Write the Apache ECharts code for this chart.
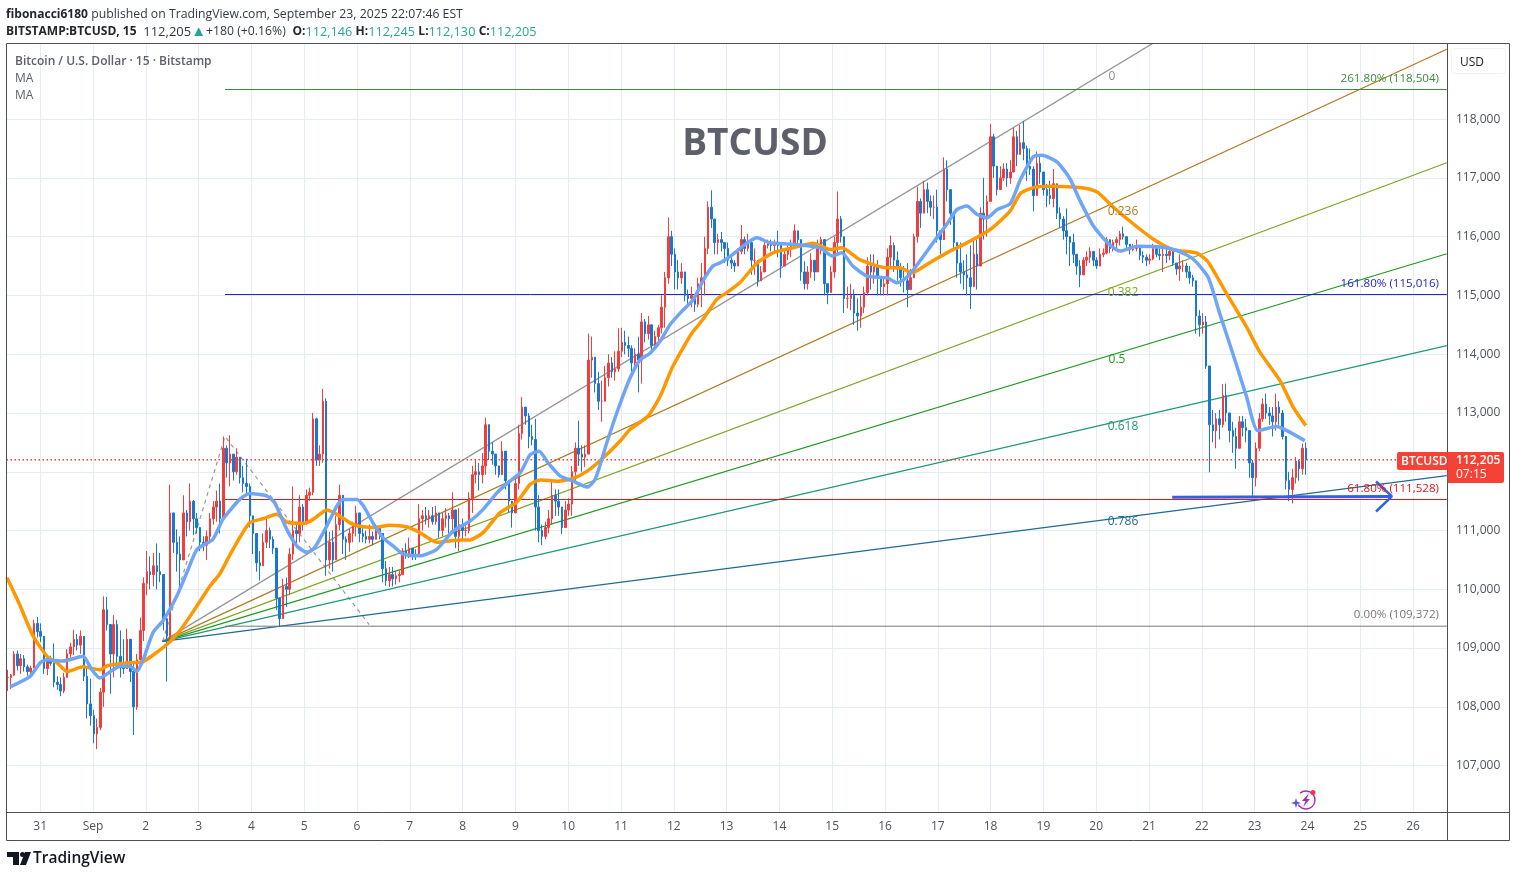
<!DOCTYPE html>
<html>
<head>
<meta charset="utf-8">
<title>BTCUSD</title>
<script src="https://cdn.jsdelivr.net/npm/echarts@6/dist/echarts.min.js"></script>
<style>
  html, body { margin: 0; padding: 0; background: #fff; }
  #chart { width: 1516px; height: 877px; }
</style>
</head>
<body>
<div id="chart"></div>
<script>
// ticks
const dayTicks = [0, 1, 2, 3, 4, 5, 6, 7, 8, 9, 10, 11, 12, 13, 14, 15, 16, 17, 18, 19, 20, 21, 22, 23, 24, 25, 26]
const dayLabels = ['31', 'Sep', '2', '3', '4', '5', '6', '7', '8', '9', '10', '11', '12', '13', '14', '15', '16', '17', '18', '19', '20', '21', '22', '23', '24', '25', '26']
const priceTicks = [107000, 108000, 109000, 110000, 111000, 112000, 113000, 114000, 115000, 116000, 117000, 118000]

// first and last bar, in days from Aug 31
const firstBarDay = -0.62
const lastBarDay = 23.97

const highs = [
  108630,108560,108950,108960,108900,108880,108720,108700,109480,109530,
  109420,109100,108830,108870,109080,108520,108500,108580,108980,109090,
  109310,109240,109300,108950,108680,108480,107950,107800,108320,109880,
  109870,109300,109560,109480,109300,109150,109330,109110,108760,108900,
  109520,110200,110650,110560,110620,110780,110620,110200,109550,111780,
  111300,111020,110900,111600,111350,111800,111520,111300,111020,110900,
  111000,111300,111500,111680,111800,112600,112450,112620,112300,112400,
  112250,112100,112220,111800,111200,110800,110650,110950,111200,111050,
  110900,110700,109850,110180,110200,110700,111750,111100,111600,111450,
  111700,111730,113000,112920,112450,113410,113250,110980,111000,111250,
  111780,111400,110900,
  111030,111150,111420,111200,111050,111000,111100,110980,111100,111080,
  110950,110480,110380,110380,110300,110320,110700,110780,110880,110700,
  110680,111450,111350,111400,111350,111400,111420,111250,111300,111380,
  111300,111650,111250,111380,111200,111150,111650,112100,112200,112150,
  112320,112920,112750,112500,112250,112000,112520,112300,111800,111450,
  111900,112800,113270,113050,113000,112800,112900,111600,111100,111150,
  111350,111850,111700,111700,111300,111500,111550,112100,112500,112870,
  112450,112450,114350,114300,113950,113700,113550,113800,114000,113950,
  114050,114440,114450,114400,114300,114150,114100,114300,114700,114600,
  114650,114500,114400,114500,115000,
  115400,116330,116100,115800,115600,115550,115250,115100,115150,115000,
  115300,115550,116000,116600,116790,116200,116050,116080,115900,115900,
  115700,115600,115800,116200,116000,116050,115900,115800,115450,115500,
  115950,115950,115950,115950,116100,115750,115800,115850,115950,116210,
  116100,115850,115580,115500,115720,115600,115950,116000,115800,115200,
  115500,116000,116770,116350,116000,115150,115200,115100,114950,115000,
  115150,115650,115700,115700,115600,115300,115300,115800,116020,115900,
  115750,115550,115500,115550,115450,116050,116850,116650,116950,116920,
  116700,116700,116800,116100,117350,117300,116800,116350,115900,115900,
  115600,115700,115850,115950,115950,116500,117000,116700,117920,117750,
  117100,117200,117250,117250,
  117300,117850,117800,117900,117970,117550,117500,117200,117450,117400,
  117100,116900,116950,117150,116800,116500,116350,116480,116000,116050,
  115550,115600,115650,115750,115820,115750,115650,115800,115800,115990,
  115900,115950,116000,116100,116170,116000,115850,115880,115950,115750,
  115750,115700,115700,115880,115850,115800,115800,115800,115800,115700,
  115550,115700,115600,115550,115500,115350,115200,114750,114700,114650,
  113800,113050,113000,113050,113490,113500,113000,112850,112750,112950,
  112950,112900,112700,112200,112500,113000,113250,113330,113100,113100,
  113330,113200,113050,112400,112000,112050,112250,112200,112480,112500
]
const lows = [
  108270,108300,108520,108620,108560,108600,108530,108520,108680,109180,
  109100,108560,108540,108700,108330,108290,108180,108230,108500,108800,
  108880,108960,108900,108440,107800,107680,107380,107280,107600,108000,
  109300,108220,108500,108680,108500,108560,108700,108420,107520,107950,
  108800,109120,109900,110000,110050,110000,110120,109300,108430,109150,
  110620,110300,110050,110500,110900,111000,110920,110950,110650,110650,
  110500,110800,111100,111150,110950,111500,111900,111750,111850,111950,
  111800,111650,111630,111050,110600,110300,110150,110500,110700,110700,
  110600,109650,109370,109500,109700,109900,110500,110700,110800,111000,
  111100,111500,111600,112100,112100,112150,110230,110350,110300,110500,
  111000,110600,110500,
  110640,110800,110900,110800,110800,110780,110780,110750,110850,110850,
  110120,110060,110040,110050,110080,110120,110250,110520,110530,110500,
  110500,110550,111000,111100,111050,111100,111100,110880,110900,111050,
  110950,110950,110700,110650,110850,110900,110950,111300,111800,111680,
  111800,111950,112200,112120,111950,111900,111950,111700,111300,111050,
  111350,111700,112550,112800,112400,112450,111000,110800,110750,110850,
  110950,111100,111250,111250,110940,111050,111250,111250,111800,112100,
  112000,112080,112300,113600,113350,113050,112850,113200,113450,113600,
  113550,113700,113950,114000,113950,113700,113800,113350,113500,114200,
  114250,114000,114100,114150,114350,
  114450,115200,115500,115100,115100,115200,114900,114850,114800,114720,
  114800,114800,115000,115700,116150,115700,115700,115750,115550,115500,
  115450,115400,115500,115700,115700,115750,115350,115350,115150,115300,
  115400,115800,115750,115750,115650,115300,115500,115600,115650,115850,
  115850,115250,115100,115100,115300,115250,115400,115700,115000,114850,
  115100,115300,115700,115900,114700,114780,114750,114500,114400,114450,
  114700,115000,115100,115200,115000,115000,115000,115000,115500,115400,
  115250,115150,115050,114800,115100,115350,115900,116150,116450,116400,
  116350,116300,115900,115700,116000,116600,116200,115750,115300,115200,
  115100,115000,114770,115200,115100,115700,115950,116000,116600,117000,
  116700,116800,116950,116850,
  116900,117100,117200,117400,117300,116950,117050,116430,116700,116900,
  116700,116500,116550,116500,116300,116150,115950,115700,115500,115550,
  115350,115140,115400,115500,115550,115500,115450,115550,115650,115700,
  115720,115750,115800,115850,115950,115800,115700,115750,115750,115600,
  115550,115500,115530,115600,115650,115600,115400,115550,115600,115500,
  115350,115250,115400,115300,115200,115150,114350,114300,114350,113750,
  111990,112500,112400,112550,112750,112850,112500,112320,112050,112400,
  112600,112500,111900,111550,111750,112350,112850,112900,112800,112600,
  112700,112800,112550,111700,111500,111460,111800,111850,111950,111950
]
const closes = [
  108500,108540,108900,108700,108820,108680,108600,108660,109420,109280,
  109200,108650,108780,108740,108420,108380,108270,108500,108900,109020,
  109150,109050,109200,108520,108050,107850,107540,107650,108250,109650,
  109400,108900,109400,108860,108700,108650,109150,108600,108000,108800,
  109300,110100,110300,110250,110400,110300,110250,109500,109200,111300,
  110800,110600,110500,111300,111150,111500,111200,111050,110800,110750,
  110900,111200,111400,111500,111200,112400,112150,112300,112000,112250,
  111900,111800,111750,111250,110950,110450,110400,110800,111000,110850,
  110700,109850,109500,110050,110000,110600,111000,110950,111400,111150,
  111600,111650,112900,112200,112300,113200,110500,110800,110500,111100,
  111600,110850,110800,
  110950,111100,111300,110950,110900,110850,110900,110850,111050,110950,
  110350,110150,110250,110180,110230,110250,110650,110600,110700,110600,
  110560,111200,111250,111200,111250,111150,111300,111000,111200,111250,
  111200,111350,110900,111100,111000,111000,111550,111950,112000,111950,
  112100,112800,112350,112300,112100,111950,112350,111850,111500,111300,
  111800,112650,113100,112950,112600,112550,111400,111000,110900,111050,
  111200,111600,111500,111400,111050,111350,111450,112000,112400,112300,
  112250,112300,113900,113950,113500,113200,113200,113600,113850,113700,
  113750,114050,114200,114150,114100,113850,114000,113900,114550,114350,
  114500,114150,114300,114450,114800,
  115300,116000,115700,115400,115300,115400,115000,114950,115000,114850,
  115200,115300,115800,116500,116300,115900,115950,115900,115800,115600,
  115550,115500,115750,115950,115800,115900,115600,115600,115250,115400,
  115850,115880,115850,115900,115850,115500,115700,115800,115850,116100,
  115950,115400,115200,115400,115600,115400,115800,115950,115200,115050,
  115400,115900,116300,116000,114950,114950,115000,114700,114650,114800,
  115050,115500,115400,115500,115300,115150,115200,115650,115850,115600,
  115450,115300,115250,115100,115300,116000,116600,116400,116800,116600,
  116500,116500,116100,115950,117150,116800,116400,115900,115550,115400,
  115350,115300,115150,115700,115500,116400,116300,116600,117700,117200,
  116800,117000,117150,117000,
  117100,117700,117400,117600,117500,117200,117150,116700,117250,117100,
  116800,116700,116650,116900,116400,116300,116100,116000,115900,115700,
  115500,115350,115600,115650,115750,115600,115500,115700,115720,115950,
  115800,115900,115950,116050,116000,115870,115780,115800,115850,115680,
  115650,115600,115620,115800,115700,115680,115700,115680,115750,115550,
  115450,115500,115500,115400,115300,115250,114650,114500,114550,113800,
  112800,112700,112900,112800,113300,113000,112700,112600,112400,112850,
  112750,112700,112150,111900,112400,112900,113150,113000,112950,112850,
  113100,113000,112600,111850,111700,111900,112180,112050,112400,112205
]

// moving averages
const blueDays = [-0.57,-0.19,0,0.13,0.43,0.81,0.98,1.13,1.38,1.51,1.7,1.83,1.95,2.14,2.33,2.59,2.78,2.97,3.27,3.46,3.78,3.97,4.29,4.44,4.67,4.86,5.05,5.2,5.43,5.62,5.73,6,6.12,6.3,6.49,6.72,6.87,7.19,7.51,7.82,8.14,8.39,8.65,8.86,9.09,9.28,9.45,9.62,9.85,10.09,10.36,10.51,10.73,10.92,11.17,11.36,11.55,11.74,11.93,12.12,12.37,12.55,12.74,12.88,13.12,13.39,13.58,13.82,14.26,14.77,15,15.18,15.39,15.66,16.04,16.23,16.44,16.66,16.91,17.17,17.36,17.55,17.74,17.93,18.12,18.37,18.56,18.81,18.97,19.26,19.5,19.69,19.94,20.2,20.45,20.77,21.21,21.53,21.83,22.12,22.34,22.59,22.85,23.06,23.42,23.61,23.95]
const blueValues = [108340,108520,108750,108800,108780,108860,108630,108490,108630,108690,108690,108600,108800,109270,109470,109890,110290,110680,110850,111190,111530,111630,111590,111475,111020,110740,110630,110710,111080,111420,111530,111530,111420,111135,110880,110710,110600,110570,110680,110990,111160,111360,111640,111815,111980,112290,112350,112150,111925,111840,111740,111870,112490,113000,113590,113905,114017,114220,114505,114700,114930,115245,115500,115555,115700,115895,115980,115895,115870,115810,115670,115725,115500,115330,115300,115215,115330,115585,115895,116210,116460,116520,116380,116320,116460,116560,116960,117360,117385,117270,116990,116620,116190,115910,115755,115835,115825,115765,115625,115310,114690,114005,113270,112700,112770,112700,112530]
const orangeDays = [-0.63,-0.38,-0.14,0.13,0.32,0.51,0.81,1.13,1.27,1.7,1.95,2.4,2.65,2.89,3.22,3.4,3.65,3.97,4.22,4.48,4.67,4.98,5.17,5.43,5.62,5.87,6,6.3,6.62,6.95,7.19,7.51,7.89,8.14,8.39,8.71,9.03,9.28,9.47,9.79,10.09,10.36,10.66,10.98,11.17,11.51,11.74,11.98,12.3,12.37,12.55,12.81,13,13.25,13.58,13.88,14.26,14.64,14.96,15.18,15.52,16.04,16.28,16.51,16.8,17.17,17.55,17.99,18.37,18.56,18.81,19.13,19.76,20.02,20.32,20.7,21.07,21.45,21.91,22.12,22.47,22.85,23.1,23.48,23.73,23.97]
const orangeValues = [110200,109720,109215,108860,108750,108600,108680,108630,108700,108750,108770,109060,109300,109610,110060,110260,110680,111135,111200,111275,111145,111120,111190,111350,111275,111130,111080,111050,111090,111060,110965,110800,110835,110840,110965,111305,111485,111785,111860,111840,111885,112010,112235,112520,112720,112945,113280,113790,114300,114390,114590,114930,115045,115215,115555,115725,115810,115890,115780,115810,115610,115470,115470,115385,115530,115725,115895,116120,116435,116730,116835,116860,116830,116760,116505,116220,115965,115780,115720,115570,115030,114460,114035,113550,113100,112785]

// fib fan
const fanOrigin = [2.32, 109114]
const fanEnds = [[21.07, 119289], [26.64, 119190], [26.64, 117257], [26.64, 115710], [26.64, 114146], [26.64, 111935]]
const fanColors = ['#959595', '#ad7d22', '#7fa624', '#1f9a1f', '#22987a', '#1f6a96']
const fanNames = ['0', '0.236', '0.382', '0.5', '0.618', '0.786']

// fib extension levels
const levelStart = 3.5
const levelEnd = 26.64
const levelPrices = [118504, 115016, 111528, 109372]
const levelNames = ['261.80% (118,504)', '161.80% (115,016)', '61.80% (111,528)', '0.00% (109,372)']
const levelColors = ['#3b8b3b', '#2424c8', '#e01414', '#777777']

// dashed zigzag and hand drawn arrow
const zigzag = [[2.32, 109114], [3.5, 112600], [6.23, 109400]]
const arrowShaft = [[21.44, 111565], [25.6, 111580]]
const arrowHead = [[25.3, 111834], [25.6, 111580], [25.3, 111324]]
const lastPrice = 112205

const ff = '"Open Sans", sans-serif'
const textGrey = '#4f525c'
const chart = echarts.init(document.getElementById('chart'))

const barStep = (lastBarDay - firstBarDay) / (closes.length - 1)
const bars = closes.map((c, i) => [
  firstBarDay + i * barStep,
  i === 0 ? c : closes[i - 1],
  c,
  lows[i],
  highs[i]
])

const zipDays = (days, values) => days.map((d, i) => [d, values[i]])

const plainLine = (data, color, width, z, type) => ({
  type: 'line',
  data: data,
  showSymbol: false,
  symbol: 'none',
  z: z,
  silent: true,
  lineStyle: { color: color, width: width, type: type || 'solid' }
})

// y is the wanted text centre, open sans sits about 2px high
const text = (x, y, t, size, color, weight, align) => ({
  type: 'text',
  z: 50,
  silent: true,
  style: {
    x: x, y: y + 2, text: t,
    fontFamily: ff,
    fontSize: size,
    fontWeight: weight || 'normal',
    fill: color,
    align: align || 'left',
    verticalAlign: 'middle'
  }
})

const frameLine = (x1, y1, x2, y2) => ({
  type: 'line',
  z: 40,
  silent: true,
  shape: { x1: x1, y1: y1, x2: x2, y2: y2 },
  style: { stroke: '#4c4e58', lineWidth: 1 }
})

const rs = (s) => Object.assign({ fontFamily: ff, fontSize: 12, fill: '#333842' }, s)
const headerRich = {
  b: rs({ fontWeight: 'bold', fill: '#23262e' }),
  n: rs({ fontSize: 12.25 }),
  v: rs({ fontSize: 13 }),
  t: rs({ fill: '#26a69a', fontSize: 12.7 }),
  a: rs({ fill: '#26a69a', fontSize: 15 })
}

const graphics = [
  frameLine(6.5, 43.5, 1509.5, 43.5),
  frameLine(6.5, 840.5, 1509.5, 840.5),
  frameLine(6.5, 43.5, 6.5, 840.5),
  frameLine(1509.5, 43.5, 1509.5, 840.5),
  frameLine(1447.5, 43.5, 1447.5, 840.5),
  frameLine(6.5, 812.5, 1509.5, 812.5),

  // header
  { type: 'text', z: 50, silent: true, style: { x: 6, y: 15, verticalAlign: 'middle', rich: headerRich,
    text: '{b|fibonacci6180} {n|published on TradingView.com, September 23, 2025 22:07:46 EST}' } },
  { type: 'text', z: 50, silent: true, style: { x: 6, y: 32, verticalAlign: 'middle', rich: headerRich,
    text: '{b|BITSTAMP:BTCUSD, 15}  {v|112,205}{a|▲}{n|+180 (+0.16%)}  {b|O:}{t|112,146} {b|H:}{t|112,245} {b|L:}{t|112,130} {b|C:}{t|112,205}' } },

  text(15, 60, 'Bitcoin / U.S. Dollar · 15 · Bitstamp', 12, '#5d606b', '600'),
  text(15, 77, 'MA', 12, '#5d606b'),
  text(15, 94, 'MA', 12, '#5d606b'),
  text(755, 142, 'BTCUSD', 37, '#5d606b', 'bold', 'center'),

  // fan labels
  text(1112, 75, fanNames[0], 12, '#8a8a8a', 'normal', 'center'),
  text(1123, 210, fanNames[1], 12, '#ad7d22', 'normal', 'center'),
  text(1123, 291, fanNames[2], 12, '#7fa624', 'normal', 'center'),
  text(1117, 358, fanNames[3], 12, '#1f9a1f', 'normal', 'center'),
  text(1123, 425, fanNames[4], 12, '#22987a', 'normal', 'center'),
  text(1123, 520, fanNames[5], 12, '#1f6a96', 'normal', 'center'),

  // level labels
  text(1439, 77, levelNames[0], 11.6, levelColors[0], 'normal', 'right'),
  text(1439, 282, levelNames[1], 11.6, levelColors[1], 'normal', 'right'),
  text(1439, 487, levelNames[2], 11.6, levelColors[2], 'normal', 'right'),
  text(1439, 613, levelNames[3], 11.6, levelColors[3], 'normal', 'right'),

  // USD box
  { type: 'rect', z: 45, silent: true, shape: { x: 1451.5, y: 48.5, width: 54, height: 25, r: 3 },
    style: { fill: '#fff', stroke: '#f0f2f5', lineWidth: 1 } },
  text(1460, 60.5, 'USD', 12, '#23262e'),

  // last price tags
  { type: 'rect', z: 45, silent: true, shape: { x: 1397, y: 452, width: 50.5, height: 18, r: [2, 0, 0, 2] }, style: { fill: '#f44336' } },
  { type: 'rect', z: 45, silent: true, shape: { x: 1447.5, y: 452, width: 56.5, height: 31, r: [0, 2, 2, 0] }, style: { fill: '#f44336' } },
  text(1401, 459.5, 'BTCUSD', 12, '#fff', '600'),
  text(1456, 458.5, '112,205', 12, '#fff', '600'),
  text(1456, 472.5, '07:15', 12, '#fff'),

  // logo
  { type: 'polygon', z: 50, silent: true, shape: { points: [[7, 852], [19, 852], [19, 865], [13, 865], [13, 857], [7, 857]] }, style: { fill: '#131722' } },
  { type: 'circle', z: 50, silent: true, shape: { cx: 22.5, cy: 854.5, r: 2.5 }, style: { fill: '#131722' } },
  { type: 'polygon', z: 50, silent: true, shape: { points: [[25, 852], [31, 852], [26, 865], [20, 865]] }, style: { fill: '#131722' } },
  text(33, 856.5, 'TradingView', 15.5, '#131722', '600'),

  // assistant icon
  { type: 'arc', z: 50, silent: true, shape: { cx: 1306, cy: 800, r: 9, startAngle: -2.3, endAngle: 2.6 },
    style: { stroke: '#a02fb0', fill: 'none', lineWidth: 1.4 } },
  { type: 'polygon', z: 50, silent: true, shape: { points: [[1309, 793], [1302, 801], [1305.5, 801], [1303, 807], [1310, 799], [1306.5, 799]] },
    style: { fill: '#a02fb0' } },
  { type: 'circle', z: 50, silent: true, shape: { cx: 1313, cy: 792.5, r: 2.5 }, style: { fill: '#f23645' } },
  { type: 'polygon', z: 50, silent: true, shape: { points: [[1296, 798], [1297.2, 801.8], [1301, 803], [1297.2, 804.2], [1296, 808], [1294.8, 804.2], [1291, 803], [1294.8, 801.8]] },
    style: { fill: '#6a4df5' } }
]

const series = [
  plainLine(zigzag, '#999999', 1.2, 2, [4, 4])
]
fanEnds.forEach((end, i) => {
  series.push(plainLine([fanOrigin, end], fanColors[i], 1.2, 2))
})
levelPrices.forEach((p, i) => {
  series.push(plainLine([[levelStart, p], [levelEnd, p]], levelColors[i], 1, 2))
})
series.push(plainLine([[-0.638, lastPrice], [26.64, lastPrice]], '#f23d3d', 1.4, 2, [1.5, 2.5]))
series.push({
  type: 'candlestick',
  data: bars,
  barWidth: 2,
  z: 3,
  silent: true,
  itemStyle: {
    color: '#f23d3d',
    color0: '#1976d2',
    borderColor: '#f23d3d',
    borderColor0: '#1976d2',
    borderWidth: 1
  }
})
const orangeLine = plainLine(zipDays(orangeDays, orangeValues), '#ff9800', 3.5, 4)
orangeLine.smooth = 0.2
series.push(orangeLine)
const blueLine = plainLine(zipDays(blueDays, blueValues), '#6ea6f5', 3.5, 5)
blueLine.smooth = 0.2
series.push(blueLine)
series.push(plainLine(arrowShaft, '#2f62ea', 3, 6))
series.push(plainLine(arrowHead, '#2f62ea', 2.5, 6))

const option = {
  animation: false,
  backgroundColor: '#fff',
  grid: { left: 6.5, right: 69, top: 43.5, height: 769 },
  xAxis: {
    type: 'value',
    min: -0.638,
    max: 26.644,
    axisLine: { show: false },
    axisTick: { show: false, customValues: dayTicks },
    splitLine: { show: true, lineStyle: { color: '#e4edf4', width: 1 } },
    axisLabel: {
      customValues: dayTicks,
      margin: 8,
      color: textGrey,
      fontFamily: ff,
      fontSize: 12,
      formatter: (v) => dayLabels[dayTicks.indexOf(v)]
    }
  },
  yAxis: {
    type: 'value',
    position: 'right',
    min: 106202,
    max: 119287,
    scale: true,
    axisLine: { show: false },
    axisTick: { show: false, customValues: priceTicks },
    splitLine: { show: true, lineStyle: { color: '#e4edf4', width: 1 } },
    axisLabel: {
      customValues: priceTicks,
      margin: 9,
      padding: [0, 0, 2, 0],
      color: textGrey,
      fontFamily: ff,
      fontSize: 12,
      formatter: (v) => v.toLocaleString('en-US')
    }
  },
  graphic: graphics,
  series: series
}

chart.setOption(option)
</script>
</body>
</html>
